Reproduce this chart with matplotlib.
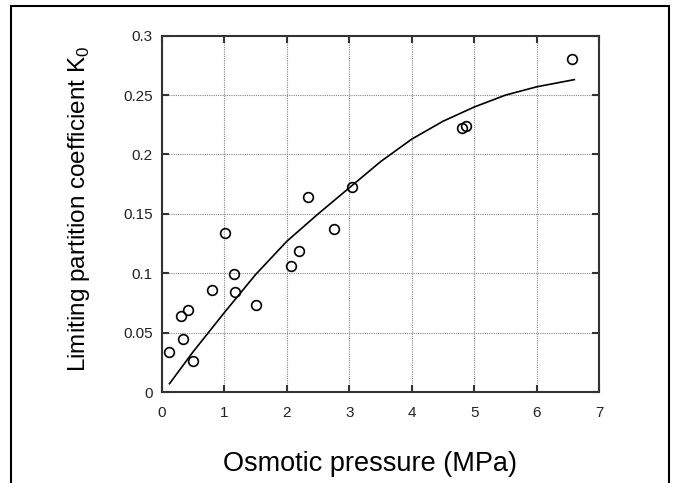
import matplotlib
matplotlib.use("Agg")
import matplotlib.pyplot as plt
from matplotlib.patches import Rectangle

# Measured data points
pressure = [0.12, 0.33, 0.30, 0.42, 0.49, 0.80, 1.01, 1.15, 1.17, 1.50,
            2.07, 2.20, 2.76, 2.33, 3.04, 4.80, 4.87, 6.57]
k0 = [0.034, 0.045, 0.064, 0.069, 0.026, 0.086, 0.134, 0.099, 0.0845, 0.073,
      0.106, 0.119, 0.137, 0.1645, 0.173, 0.222, 0.224, 0.280]

# Fitted curve
fit_x = [0.12, 0.5, 1.0, 1.5, 2.0, 2.5, 3.0, 3.5, 4.0, 4.5, 5.0, 5.5, 6.0, 6.6]
fit_y = [0.007, 0.034, 0.067, 0.099, 0.127, 0.150, 0.172, 0.194, 0.213, 0.228, 0.240, 0.250, 0.257, 0.263]

xticks = [0, 1, 2, 3, 4, 5, 6, 7]
yticks = [0, 0.05, 0.1, 0.15, 0.2, 0.25, 0.3]
ytick_labels = ["0", "0.05", "0.1", "0.15", "0.2", "0.25", "0.3"]

plt.rcParams['font.family'] = ['Liberation Sans', 'DejaVu Sans']

fig = plt.figure(figsize=(6.73, 4.83), dpi=100)
# outer frame
fig.patches.append(Rectangle((11/673, -0.05), (669-11)/673, 1.05 - 6/483,
                             transform=fig.transFigure, fill=False,
                             edgecolor='black', linewidth=1.5))

ax = fig.add_axes([162/673, 1 - 392/483, (599.3-162)/673, (392-35.7)/483])

ax.plot(fit_x, fit_y, color='black', linewidth=1.2, zorder=3)
ax.plot(pressure, k0, linestyle='none', marker='o', markersize=7,
        markerfacecolor='none', markeredgecolor='black', markeredgewidth=1.2, zorder=4)

ax.set_xlim(0, 7)
ax.set_ylim(0, 0.3)
ax.set_xticks(xticks)
ax.set_yticks(yticks)
ax.set_yticklabels(ytick_labels)

ax.grid(True, color='#888888', linestyle=(0, (1, 1)), linewidth=0.8)
ax.set_axisbelow(True)

ax.tick_params(direction='in', length=5, width=1.5, top=True, right=True,
               labelsize=11, color='#333333', labelcolor='#222222')
ax.tick_params(axis='x', pad=10)
ax.tick_params(axis='y', pad=6.5)
for s in ax.spines.values():
    s.set_linewidth(1.5)
    s.set_color('#333333')

ax.set_xlabel("Osmotic pressure (MPa)", fontsize=19.5)
ax.set_ylabel("Limiting partition coefficient K$_\\mathregular{0}$", fontsize=17.5)
ax.xaxis.set_label_coords(0.476, -0.166)
ax.yaxis.set_label_coords(-0.16, 0.515)

fig.savefig("out.png", dpi=100)
